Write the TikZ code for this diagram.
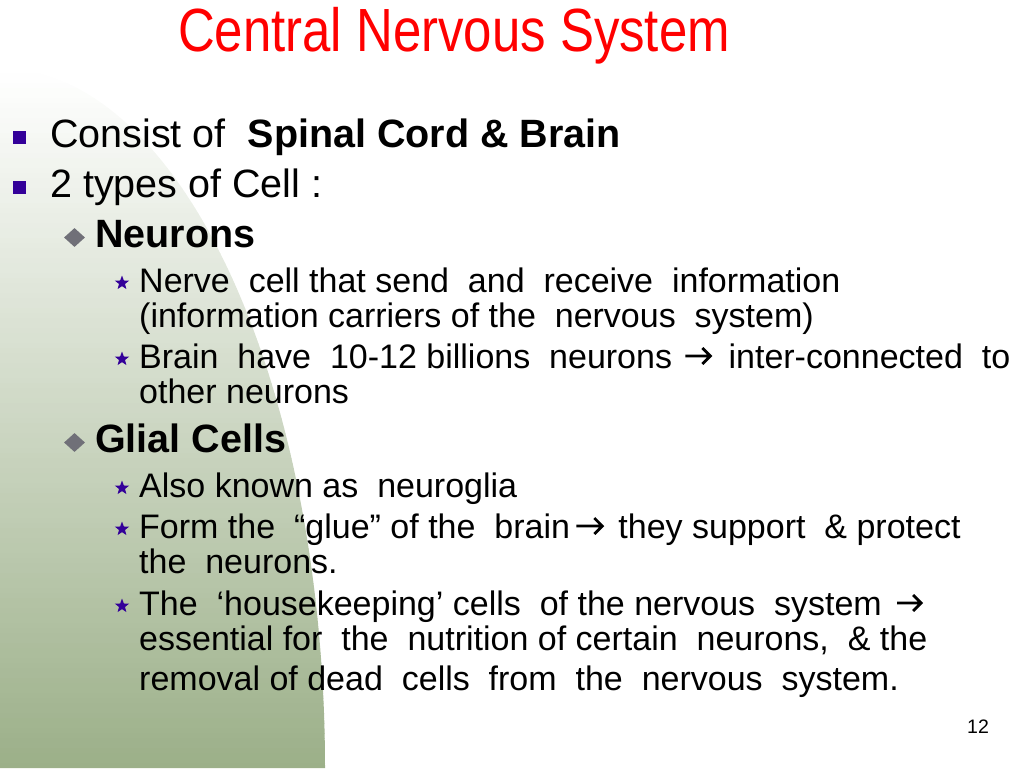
\documentclass[tikz,border=0pt]{standalone}
\usepackage{fontspec}
\setmainfont{Liberation Sans}
\usetikzlibrary{shapes.geometric}
\definecolor{sage}{RGB}{155,175,136}
\definecolor{ink}{RGB}{0,0,0}
\definecolor{bulletpurple}{RGB}{51,0,153}
\definecolor{diamondgray}{RGB}{112,112,120}
\definecolor{titlered}{RGB}{255,0,0}
\tikzset{
  levelone/.style={anchor=base west, inner sep=0pt, text=ink, font=\fontsize{39.5}{40}\selectfont},
  leveltwo/.style={anchor=base west, inner sep=0pt, text=ink, font=\fontsize{39.5}{40}\selectfont\bfseries},
  levelthree/.style={anchor=base west, inner sep=0pt, text=ink, font=\fontsize{34}{35}\selectfont},
  sqbullet/.style={rectangle, fill=bulletpurple, draw=none, inner sep=0pt, minimum size=13pt},
  dmbullet/.style={diamond, fill=diamondgray, draw=none, inner sep=0pt, minimum width=21pt, minimum height=19pt},
  stbullet/.style={star, star points=5, star point ratio=2.4, fill=bulletpurple, draw=none, inner sep=0pt, minimum size=15pt},
  arrowline/.style={draw=ink, line width=2.8pt, line join=miter, line cap=butt},
}
\begin{document}
\begin{tikzpicture}[x=1pt, y=-1pt]
\useasboundingbox (0,0) rectangle (1024,768);
\foreach \i in {0,...,139} {
  \pgfmathtruncatemacro{\p}{(\i+0.5)/140*100}
  \pgfmathsetmacro{\ya}{68+5*\i}
  \pgfmathsetmacro{\yb}{min(768,73.6+5*\i)}
  \pgfmathsetmacro{\xa}{325*sqrt(max(0,1-((768-\ya)/700)^2))}
  \pgfmathsetmacro{\xb}{325*sqrt(max(0,1-((768-\yb)/700)^2))}
  \fill[sage!\p!white] (0,\ya) -- (\xa,\ya) -- (\xb,\yb) -- (0,\yb) -- cycle;
}

\node[anchor=base, text=titlered, inner sep=0pt, font=\fontsize{61}{61}\selectfont, xscale=0.835] (title) at (454,52) {Central Nervous System};

\node[sqbullet] (b1) at (19,137.5) {};
\node[levelone] (l1a) at (50,147) {Consist of~ \textbf{Spinal Cord \& Brain}};
\node[sqbullet] (b2) at (19,187.5) {};
\node[levelone] (l1b) at (50,197) {2 types of Cell :};

\node[dmbullet] (d1) at (74.5,237.5) {};
\node[leveltwo] (l2a) at (95,247) {Neurons};

\node[stbullet] (s1) at (122,283) {};
\node[levelthree] (l3a) at (139,292) {Nerve~ cell that send~ and~ receive~ information};
\node[levelthree] (l3b) at (139,327) {(information carriers of the~ nervous~ system)};
\node[stbullet] (s2) at (122,359) {};
\node[levelthree] (l3c) at (139,368) {Brain~ have~ 10-12 billions~ neurons};
\coordinate (a1s) at ([xshift=13pt,yshift=12pt]l3c.base east);
\coordinate (a1e) at ([xshift=25pt]a1s);
\draw[arrowline] (a1s) -- (a1e) ([xshift=-8pt,yshift=8pt]a1e) -- (a1e) -- ([xshift=-8pt,yshift=-8pt]a1e);
\node[levelthree] (l3c2) at ([xshift=18pt,yshift=-12pt]a1e) {inter-connected~ to};
\node[levelthree] (l3d) at (139,403) {other neurons};

\node[dmbullet] (d2) at (74.5,442.5) {};
\node[leveltwo] (l2b) at (95,452) {Glial Cells};

\node[stbullet] (s3) at (122,488) {};
\node[levelthree] (l3e) at (139,497) {Also known as~ neuroglia};
\node[stbullet] (s4) at (122,529) {};
\node[levelthree] (l3f) at (139,538) {Form the~ “glue” of the~ brain};
\coordinate (a2s) at ([xshift=6pt,yshift=12pt]l3f.base east);
\coordinate (a2e) at ([xshift=26pt]a2s);
\draw[arrowline] (a2s) -- (a2e) ([xshift=-8pt,yshift=8pt]a2e) -- (a2e) -- ([xshift=-8pt,yshift=-8pt]a2e);
\node[levelthree] (l3f2) at ([xshift=16pt,yshift=-12pt]a2e) {they support~ \& protect};
\node[levelthree] (l3g) at (139,573) {the~ neurons.};
\node[stbullet] (s5) at (122,606) {};
\node[levelthree] (l3h) at (139,615) {The~ ‘housekeeping’ cells~ of the nervous~ system};
\coordinate (a3s) at ([xshift=15pt,yshift=12pt]l3h.base east);
\coordinate (a3e) at ([xshift=24pt]a3s);
\draw[arrowline] (a3s) -- (a3e) ([xshift=-8pt,yshift=8pt]a3e) -- (a3e) -- ([xshift=-8pt,yshift=-8pt]a3e);
\node[levelthree] (l3i) at (139,650) {essential for~ the~ nutrition of certain~ neurons,~ \& the};
\node[levelthree] (l3j) at (139,690) {removal of dead~ cells~ from~ the~ nervous~ system.};

\node[anchor=base, inner sep=0pt, text=ink, font=\fontsize{19.5}{20}\selectfont] (pagenum) at (978,733) {12};
\end{tikzpicture}
\end{document}
